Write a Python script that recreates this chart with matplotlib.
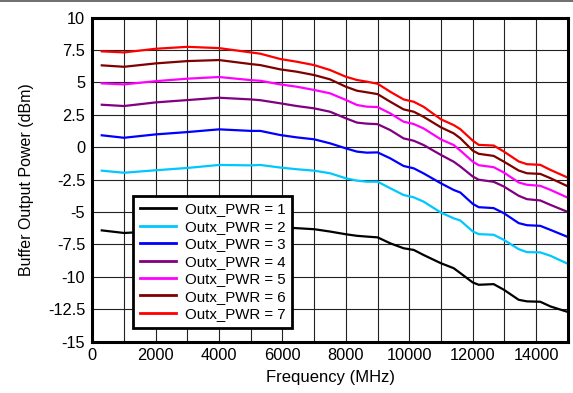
"""Buffer output power vs frequency for each Outx_PWR setting."""
import matplotlib
matplotlib.use("Agg")
import matplotlib.pyplot as plt
from matplotlib.lines import Line2D
from matplotlib.ticker import MultipleLocator

plt.rcParams["font.family"] = ["Liberation Sans", "DejaVu Sans"]

freq = [300, 1000, 2000, 3000, 4000, 5000, 5300, 5930, 6450, 7000, 7500,
        8000, 8350, 8660, 9000, 9400, 9820, 10140, 10450, 11000, 11400,
        11610, 12000, 12190, 12660, 12980, 13450, 13710, 14130, 14450, 15000]

pwr1 = [-6.42, -6.62, -6.50, -6.35, -6.22, -6.15, -6.13, -6.18, -6.25, -6.33,
        -6.51, -6.72, -6.84, -6.90, -6.96, -7.42, -7.80, -7.93, -8.32, -8.96,
        -9.34, -9.72, -10.44, -10.62, -10.57, -11.00, -11.78, -11.90, -11.93,
        -12.29, -12.72]
pwr2 = [-1.81, -1.97, -1.78, -1.60, -1.37, -1.40, -1.37, -1.57, -1.70, -1.81,
        -2.01, -2.40, -2.58, -2.66, -2.66, -3.17, -3.69, -3.87, -4.20, -5.05,
        -5.49, -5.66, -6.50, -6.71, -6.76, -7.15, -7.87, -8.10, -8.12, -8.38,
        -9.00]
pwr3 = [0.92, 0.73, 0.99, 1.17, 1.38, 1.26, 1.26, 0.94, 0.76, 0.61,
        0.30, -0.09, -0.34, -0.42, -0.40, -0.86, -1.45, -1.63, -2.02, -2.79,
        -3.30, -3.50, -4.37, -4.63, -4.70, -5.09, -5.86, -6.02, -6.07, -6.38,
        -6.93]
pwr4 = [3.28, 3.18, 3.46, 3.64, 3.82, 3.69, 3.63, 3.39, 3.18, 3.00,
        2.74, 2.23, 1.90, 1.82, 1.78, 1.32, 0.68, 0.50, 0.17, -0.60,
        -1.12, -1.49, -2.26, -2.51, -2.67, -3.03, -3.75, -4.01, -4.11, -4.45,
        -5.00]
pwr5 = [4.93, 4.85, 5.10, 5.29, 5.42, 5.18, 5.13, 4.85, 4.67, 4.42,
        4.16, 3.65, 3.26, 3.13, 3.10, 2.61, 1.97, 1.79, 1.45, 0.60,
        0.17, -0.26, -1.11, -1.39, -1.54, -1.95, -2.72, -2.90, -2.98, -3.29,
        -3.90]
pwr6 = [6.32, 6.21, 6.47, 6.65, 6.73, 6.42, 6.34, 6.01, 5.83, 5.57,
        5.24, 4.67, 4.36, 4.24, 4.10, 3.51, 2.92, 2.74, 2.35, 1.53,
        1.07, 0.69, -0.26, -0.51, -0.67, -1.11, -1.80, -2.01, -2.06, -2.39,
        -3.02]
pwr7 = [7.40, 7.32, 7.60, 7.75, 7.65, 7.32, 7.22, 6.81, 6.60, 6.34,
        5.96, 5.44, 5.19, 5.06, 4.90, 4.28, 3.69, 3.51, 3.12, 2.15,
        1.71, 1.39, 0.51, 0.18, 0.13, -0.33, -1.10, -1.31, -1.36, -1.75,
        -2.35]

series = [pwr1, pwr2, pwr3, pwr4, pwr5, pwr6, pwr7]
labels = [f"Outx_PWR = {i}" for i in range(1, 8)]
colors = ["#000000", "#00C8FF", "#0000FF", "#800080", "#FF00FF", "#800000", "#FF0000"]

yticks = [10, 7.5, 5, 2.5, 0, -2.5, -5, -7.5, -10, -12.5, -15]
ytick_labels = ["10", "7.5", "5", "2.5", "0", "-2.5", "-5", "-7.5", "-10", "-12.5", "-15"]


def main():
    fig = plt.figure(figsize=(5.73, 3.93), dpi=100)
    ax = fig.add_axes([0.161, 0.131, 0.830, 0.824])

    for vals, lab, col in zip(series, labels, colors):
        ax.plot(freq, vals, color=col, lw=1.6, label=lab,
                solid_joinstyle="round")

    ax.set_xlim(0, 15000)
    ax.set_ylim(-15, 10)
    ax.xaxis.set_major_locator(MultipleLocator(2000))
    ax.xaxis.set_minor_locator(MultipleLocator(1000))
    ax.set_yticks(yticks)
    ax.set_yticklabels(ytick_labels)
    ax.tick_params(which="both", length=0, labelsize=11.8, pad=5)
    ax.grid(which="both", color="#222222", lw=0.8)
    ax.set_axisbelow(True)
    for sp in ax.spines.values():
        sp.set_linewidth(2.2)

    ax.set_xlabel("Frequency (MHz)", fontsize=12, labelpad=5)
    ax.set_ylabel("Buffer Output Power (dBm)", fontsize=11.5, labelpad=10)

    leg = ax.legend(loc="lower left", bbox_to_anchor=(0.086, 0.042),
                    borderaxespad=0, fontsize=10.8, frameon=True,
                    fancybox=False, handlelength=2.4, labelspacing=0.23,
                    borderpad=0.45, handletextpad=0.6)
    leg.get_frame().set_edgecolor("black")
    leg.get_frame().set_linewidth(2.0)
    leg.get_frame().set_alpha(1)
    for h in leg.get_lines():
        h.set_linewidth(2.0)

    fig.add_artist(Line2D([0, 1], [0.998, 0.998], color="#555555", lw=1.2,
                          transform=fig.transFigure))

    fig.savefig("out.png", dpi=100)


if __name__ == "__main__":
    main()
